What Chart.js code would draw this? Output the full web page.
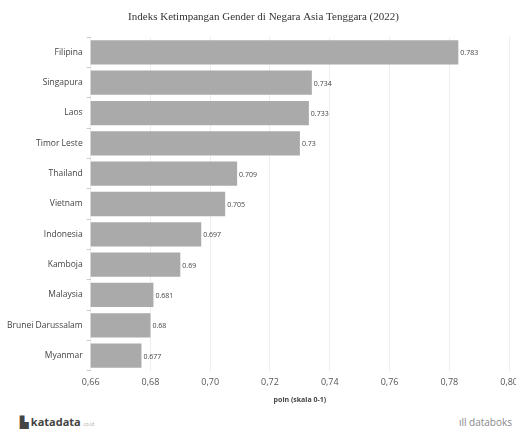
<!DOCTYPE html>
<html>
<head>
<meta charset="utf-8">
<script src="https://cdn.jsdelivr.net/npm/chart.js@4/dist/chart.umd.min.js"></script>
<style>
  html, body { margin: 0; padding: 0; background: #fff; overflow: hidden; }
  #wrap { position: relative; width: 516px; height: 434px; overflow: hidden; }
  .foot { position: absolute; font-family: "Open Sans", sans-serif; color: #444; }
</style>
</head>
<body>
<div id="wrap">
  <canvas id="chart" width="524" height="404"></canvas>
  <div class="foot" style="left:20px; top:414px; font-size:11px; font-weight:bold;">▙ katadata<span style="font-size:5px;color:#aaa;font-weight:normal"> .co.id</span></div>
  <div class="foot" style="right:4px; top:415px; font-size:10px; color:#888;">ıll databoks</div>
</div>
<script>
const countries = ['Filipina', 'Singapura', 'Laos', 'Timor Leste', 'Thailand', 'Vietnam',
  'Indonesia', 'Kamboja', 'Malaysia', 'Brunei Darussalam', 'Myanmar']
const scores = [0.783, 0.734, 0.733, 0.73, 0.709, 0.705, 0.697, 0.69, 0.681, 0.68, 0.677]
const xMin = 0.66
const xMax = 0.80

// value labels at the end of each bar
const barLabels = {
  id: 'barLabels',
  afterDatasetsDraw(chart) {
    const ctx = chart.ctx
    const meta = chart.getDatasetMeta(0)
    ctx.save()
    ctx.font = '7px "Open Sans", sans-serif'
    ctx.fillStyle = '#444'
    ctx.textBaseline = 'middle'
    meta.data.forEach((bar, i) => {
      ctx.fillText(String(scores[i]), bar.x + 2, bar.y + 1)
    })
    ctx.restore()
  }
}

new Chart(document.getElementById('chart'), {
  type: 'bar',
  data: {
    labels: countries,
    datasets: [{
      data: scores,
      backgroundColor: '#aaaaaa',
      barPercentage: 0.8,
      categoryPercentage: 1
    }]
  },
  options: {
    indexAxis: 'y',
    responsive: false,
    animation: false,
    layout: { padding: { left: 3, right: 0, top: 0, bottom: 0 } },
    plugins: {
      legend: { display: false },
      tooltip: { enabled: false },
      title: {
        display: true,
        text: 'Indeks Ketimpangan Gender di Negara Asia Tenggara (2022)',
        font: { family: '"Liberation Serif", serif', size: 11, weight: 'normal' },
        color: '#333',
        padding: { top: 11, bottom: 13 }
      }
    },
    scales: {
      x: {
        min: xMin,
        max: xMax,
        ticks: {
          stepSize: 0.02,
          color: '#555',
          padding: 6,
          font: { family: '"Open Sans", sans-serif', size: 9 },
          callback: v => v.toFixed(2).replace('.', ',')
        },
        grid: { color: '#eeeeee', drawTicks: false },
        border: { display: false },
        title: {
          display: true,
          text: 'poin (skala 0-1)',
          padding: { top: 2, bottom: 0 },
          font: { family: '"Open Sans", sans-serif', size: 7, weight: 'bold' },
          color: '#444'
        }
      },
      y: {
        ticks: {
          color: '#444',
          font: { family: '"Open Sans", sans-serif', size: 8.5 },
          padding: 4
        },
        grid: { drawOnChartArea: false, drawTicks: true, tickLength: 4, tickColor: '#cccccc' },
        border: { display: false }
      }
    }
  },
  plugins: [barLabels]
})
</script>
</body>
</html>
